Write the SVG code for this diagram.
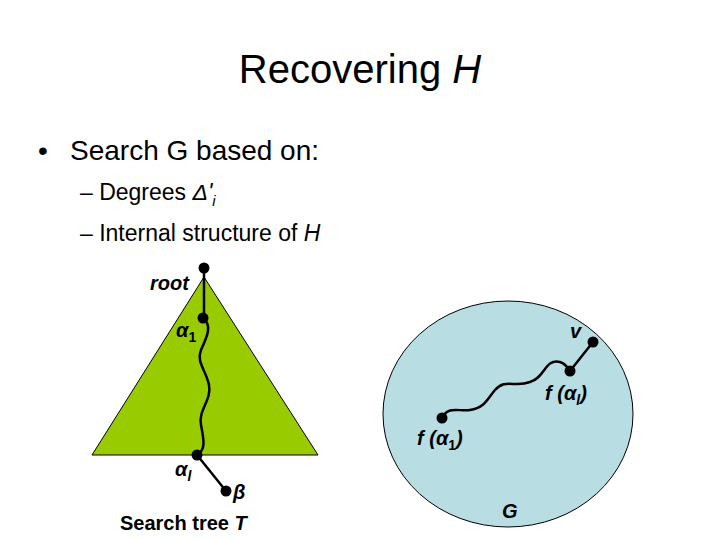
<svg xmlns="http://www.w3.org/2000/svg" width="720" height="540" viewBox="0 0 720 540">
<style>
text{font-family:"Liberation Sans",Arial,sans-serif;fill:#000}
.b{font-weight:bold;font-style:italic;font-size:20px}
.s{font-style:normal;font-size:14px}
.ln{stroke:#000;stroke-width:2.5;fill:none}
</style>
<rect width="720" height="540" fill="#fff"/>
<text x="360" y="83" font-size="40" text-anchor="middle">Recovering <tspan font-style="italic">H</tspan></text>
<text x="38" y="160" font-size="28">•</text>
<text x="70" y="160" font-size="28">Search G based on:</text>
<text x="80" y="200" font-size="23">– Degrees <tspan font-style="italic">Δ'</tspan><tspan font-style="italic" font-size="15" dy="6">i</tspan></text>
<text x="80" y="241" font-size="23">– Internal structure of <tspan font-style="italic">H</tspan></text>
<g id="tree"><polygon points="204,277 92,455 318,455" fill="#99cc00" stroke="#000" stroke-width="1"/></g>
<g id="graph"><ellipse cx="508" cy="414" rx="125" ry="113" fill="#b8dde2" stroke="#000" stroke-width="1"/></g>
<g id="connectors">
<line class="ln" x1="204" y1="268" x2="204" y2="318"/>
<path class="ln" d="M203,318 C212,325 208,335 201,350 C196,362 206,370 209,385 C212,400 198,410 201,425 C204,440 206,450 197,455"/>
<line class="ln" x1="197" y1="455" x2="226" y2="491"/>
<path class="ln" d="M442,418 C448,405 460,412 470,410 C485,408 488,398 495,390 C505,378 515,388 530,382 C545,378 545,358 560,362 C566,364 568,368 570,371"/>
<line class="ln" x1="570" y1="371" x2="593" y2="342"/>
</g>
<g id="root"><circle cx="204" cy="268" r="5.5"/><text class="b" x="150" y="290">root</text></g>
<g id="a1"><circle cx="203" cy="318" r="5.5"/><text class="b" x="176" y="337">α<tspan class="s" font-weight="bold" dy="5">1</tspan></text></g>
<g id="al"><circle cx="197" cy="455" r="5.5"/><text class="b" x="175" y="476">α<tspan font-size="14" dy="5">l</tspan></text></g>
<g id="beta"><circle cx="226" cy="491" r="5.5"/><text class="b" x="233" y="499">β</text></g>
<text x="120" y="530" font-size="20" font-weight="bold">Search tree <tspan font-style="italic">T</tspan></text>
<g id="v"><circle cx="593" cy="342" r="5.5"/><text class="b" x="570" y="338">v</text></g>
<g id="fal"><circle cx="570" cy="371" r="5.5"/><text class="b" x="545" y="400">f (α<tspan font-size="14" dy="5">l</tspan><tspan dy="-5">)</tspan></text></g>
<g id="fa1"><circle cx="442" cy="418" r="5.5"/><text class="b" x="417" y="445">f (α<tspan class="s" font-weight="bold" dy="5">1</tspan><tspan dy="-5">)</tspan></text></g>
<text x="502" y="518" font-size="20" font-weight="bold" font-style="italic">G</text>
</svg>
